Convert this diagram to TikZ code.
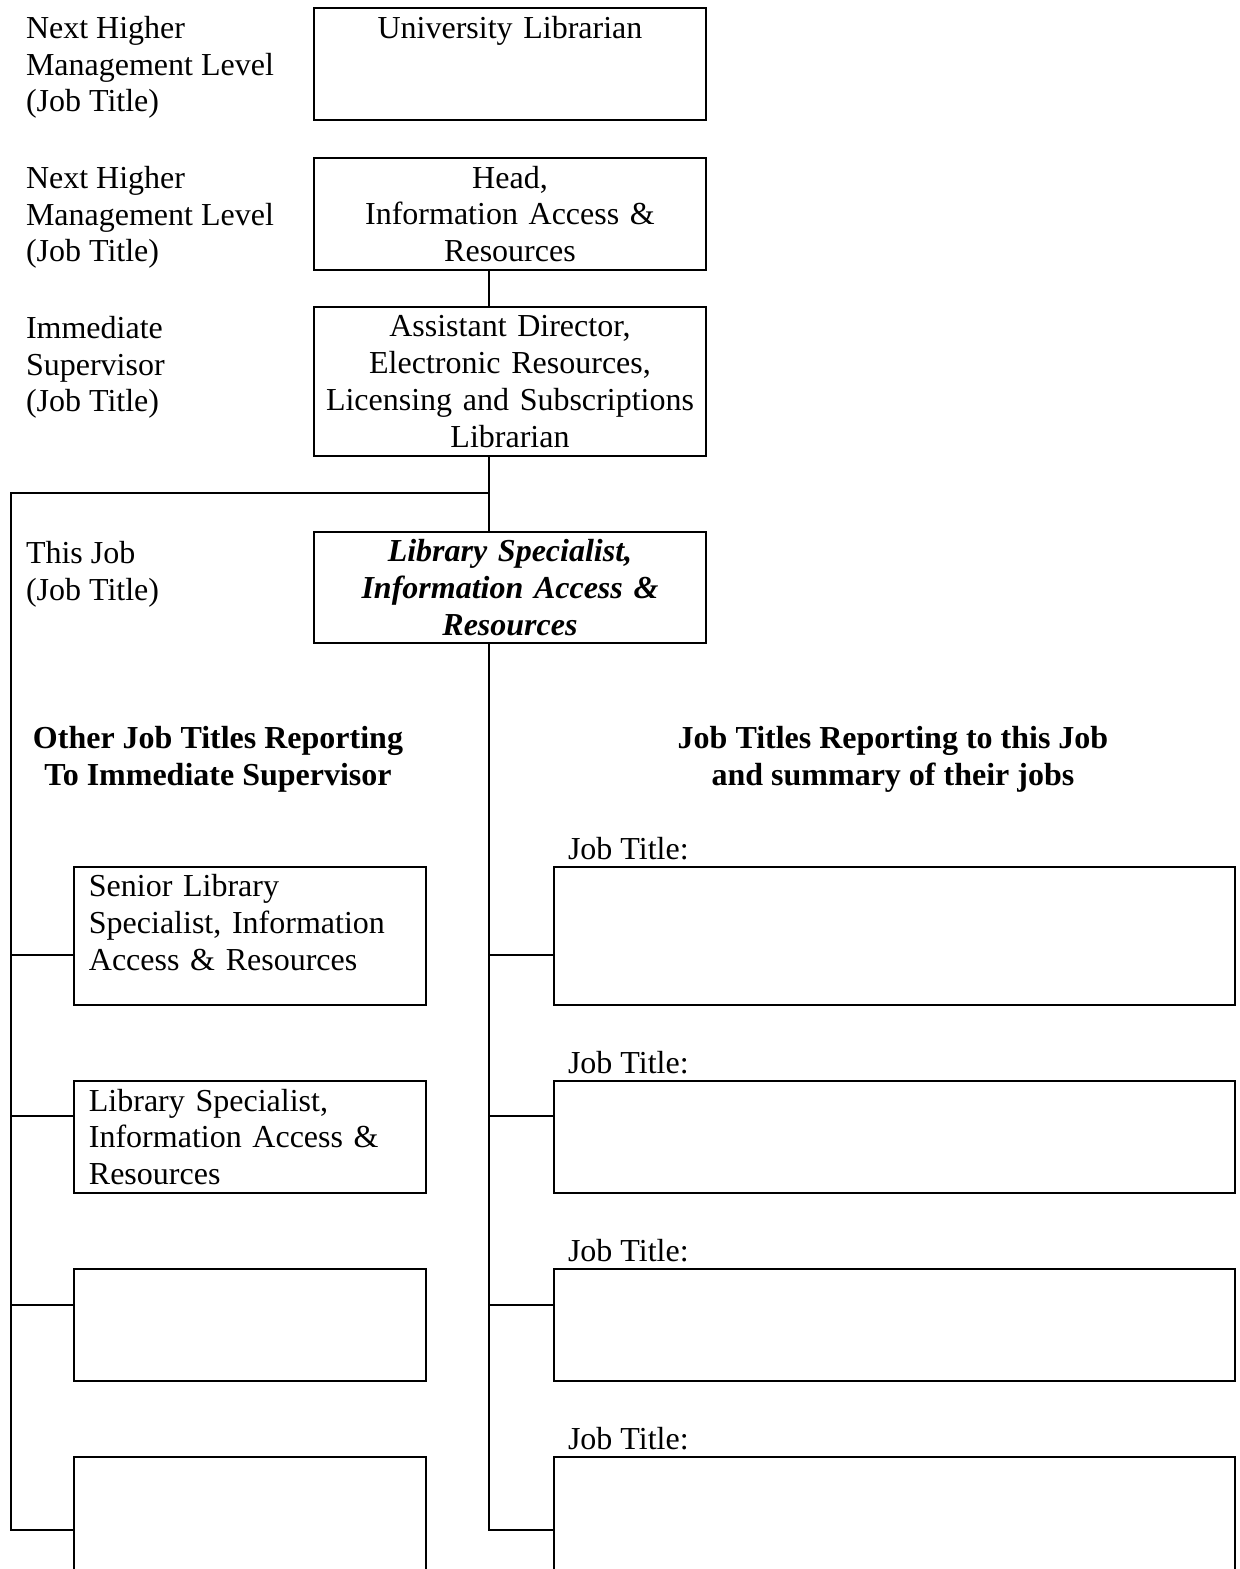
\documentclass[tikz,border=0pt]{standalone}
\usepackage{fontspec}
\setmainfont{Liberation Serif}
\newcommand{\chartfont}{\fontsize{12}{13.8}\selectfont}

\begin{document}
\begin{tikzpicture}[x=0.375pt, y=-0.375pt, line width=0.75pt,
	every node/.style={font=\chartfont, inner sep=0pt},
	topbox/.style={draw, anchor=north west, minimum width=147pt, text width=141pt, align=center, inner xsep=3pt},
	sidebox/.style={draw, anchor=north west, minimum width=132pt, text width=120.8pt, align=left, inner xsep=5.6pt},
	jobbox/.style={draw, anchor=north west, minimum width=255.4pt},
	levellabel/.style={anchor=north west, align=left},
	heading/.style={anchor=north, align=center, font=\chartfont\bfseries},
	jobtitle/.style={anchor=south west}]
	
	\clip (0,0) rectangle (1240,1569);
	
	\node[levellabel] (lvl1) at (25,15) {Next Higher\\Management Level\\(Job Title)};
	\node[levellabel] (lvl2) at (25,165) {Next Higher\\Management Level\\(Job Title)};
	\node[levellabel] (lvl3) at (25,315) {Immediate\\Supervisor\\(Job Title)};
	\node[levellabel] (lvl4) at (25,540) {This Job\\(Job Title)};
	
	\node[topbox, minimum height=42pt] (univ) at (313,7) {University Librarian\\~\\~};
	\node[topbox, minimum height=42pt] (head) at (313,157) {Head,\\Information Access \&\\Resources};
	\node[topbox, minimum height=55.9pt] (asst) at (313,306) {Assistant Director,\\Electronic Resources,\\Licensing and Subscriptions\\Librarian};
	\node[topbox, minimum height=41.6pt, font=\chartfont\bfseries\itshape] (this) at (313,531) {Library Specialist,\\Information Access \&\\Resources};
	
	\node[heading] (othertitles) at (218,725) {Other Job Titles Reporting\\To Immediate Supervisor};
	\node[heading] (reporttitles) at (893,725) {Job Titles Reporting to this Job\\and summary of their jobs};
	
	\node[sidebox, minimum height=51.75pt] (lb1) at (73,866) {Senior Library\\Specialist, Information\\Access \& Resources\\[-3.8pt]~};
	\node[sidebox, minimum height=42pt] (lb2) at (73,1080) {Library Specialist,\\Information Access \&\\Resources};
	\node[sidebox, minimum height=42pt] (lb3) at (73,1268) {};
	\node[sidebox, minimum height=56pt] (lb4) at (73,1456) {};
	
	\node[jobbox, minimum height=51.75pt] (rb1) at (553,866) {};
	\node[jobbox, minimum height=42pt] (rb2) at (553,1080) {};
	\node[jobbox, minimum height=42pt] (rb3) at (553,1268) {};
	\node[jobbox, minimum height=56pt] (rb4) at (553,1456) {};
	
	\node[jobtitle] (jt1) at (567,861) {Job Title:};
	\node[jobtitle] (jt2) at (567,1075) {Job Title:};
	\node[jobtitle] (jt3) at (567,1263) {Job Title:};
	\node[jobtitle] (jt4) at (567,1451) {Job Title:};
	
	\coordinate (spine) at (489,0);
	\coordinate (trunk) at (11,493);
	\coordinate (l1) at (11,955);
	\coordinate (l2) at (11,1116);
	\coordinate (l3) at (11,1305);
	\coordinate (l4) at (11,1530);
	\coordinate (r1) at (489,955);
	\coordinate (r2) at (489,1116);
	\coordinate (r3) at (489,1305);
	\coordinate (r4) at (489,1530);
	
	\draw (head.south -| spine) -- (asst.north -| spine);
	\draw (asst.south -| spine) -- (this.north -| spine);
	\draw (trunk -| spine) -- (trunk) |- (l4 -| lb4.west);
	\draw (this.south -| spine) |- (r4 -| rb4.west);
	
	\draw (l1) -- (l1 -| lb1.west);
	\draw (l2) -- (l2 -| lb2.west);
	\draw (l3) -- (l3 -| lb3.west);
	\draw (r1) -- (r1 -| rb1.west);
	\draw (r2) -- (r2 -| rb2.west);
	\draw (r3) -- (r3 -| rb3.west);
\end{tikzpicture}
\end{document}
